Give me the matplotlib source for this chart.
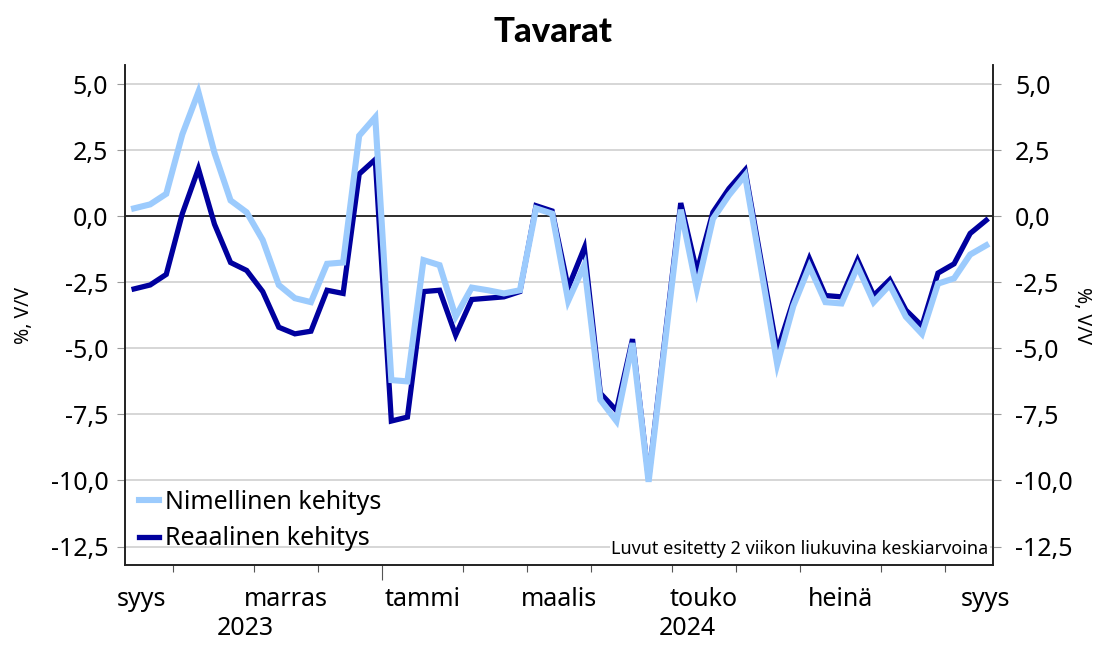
import numpy as np
import matplotlib.pyplot as plt
from matplotlib.transforms import blended_transform_factory

# weekly values, % y/y (2-week moving average)
nimellinen = [0.3, 0.45, 0.85, 3.1, 4.7, 2.4, 0.6, 0.15, -0.9, -2.6,
              -3.1, -3.25, -1.8, -1.75, 3.05, 3.75, -6.2, -6.25, -1.66, -1.85,
              -3.8, -2.7, -2.8, -2.92, -2.8, 0.3, 0.1, -3.2, -1.85, -6.95,
              -7.75, -4.8, -10.05, -4.9, 0.25, -2.75, -0.1, 0.8, 1.55, -2.0,
              -5.6, -3.4, -1.9, -3.25, -3.3, -1.9, -3.25, -2.6, -3.8, -4.45,
              -2.55, -2.35, -1.45, -1.1]
reaalinen = [-2.75, -2.6, -2.2, 0.1, 1.8, -0.3, -1.75, -2.05, -2.85, -4.2,
             -4.45, -4.35, -2.8, -2.92, 1.6, 2.15, -7.75, -7.6, -2.85, -2.8,
             -4.5, -3.15, -3.1, -3.05, -2.85, 0.4, 0.2, -2.7, -1.2, -6.7,
             -7.35, -4.65, -9.95, -4.7, 0.5, -2.1, 0.15, 1.05, 1.75, -1.7,
             -5.1, -3.2, -1.6, -3.0, -3.05, -1.65, -3.0, -2.4, -3.55, -4.15,
             -2.15, -1.8, -0.65, -0.15]

month_names = ["syys", "loka", "marras", "joulu", "tammi", "helmi", "maalis",
               "huhti", "touko", "kesä", "heinä", "elo", "syys"]
month_weeks = [4, 5, 4, 4, 5, 4, 4, 5, 4, 4, 5, 4, 5]
first_month_start = -1.57   # start of Sep 2023 in week units
year_labels = ["2023", "2024"]
yticks = [5.0, 2.5, 0.0, -2.5, -5.0, -7.5, -10.0, -12.5]

light = "#9ccbfd"
dark = "#00009e"

plt.rcParams['font.family'] = ['Noto Sans', 'DejaVu Sans']

fig = plt.figure(figsize=(11.07, 6.45), dpi=100)
ax = fig.add_axes([0.113, 0.124, 0.784, 0.775])
ax2 = ax.twinx()

weeks = np.arange(len(nimellinen))
l2, = ax.plot(weeks, reaalinen, color=dark, lw=3.8, solid_joinstyle="miter", zorder=3)
l1, = ax.plot(weeks, nimellinen, color=light, lw=4.4, solid_joinstyle="miter", zorder=4)

ax.set_xlim(-0.56, 53.42)
for a in (ax, ax2):
    a.set_ylim(-13.2, 5.72)
    a.set_yticks(yticks)
    a.set_yticklabels([f"{v:.1f}".replace(".", ",") for v in yticks])
    a.spines["top"].set_visible(False)
    for s in ("left", "right", "bottom"):
        a.spines[s].set_color("#222222")
        a.spines[s].set_linewidth(1.2)

ax.grid(axis="y", color="#cccccc", lw=1.1, zorder=0)
ax.axhline(0, color="black", lw=1.1, zorder=2)

ax.tick_params(axis="y", labelsize=18, length=6, color="#999999", pad=6)
ax2.tick_params(axis="y", labelsize=18, length=6, color="#999999", pad=10)
ax.set_ylabel("%, V/V", fontsize=14, labelpad=12)
ax2.set_ylabel("%, V/V", fontsize=14, rotation=270, labelpad=14)

# month boundaries as ticks, labels in the middle of every other month
bounds = first_month_start + np.concatenate([[0], np.cumsum(month_weeks)])
ax.set_xticks(bounds[1:-1])
ax.set_xticklabels([])
ax.tick_params(axis="x", which="major", length=5, color="#555555")
jan_idx = month_names.index("tammi") - 1
ax.xaxis.get_major_ticks()[jan_idx].tick1line.set_markersize(11)

mids = (bounds[:-1] + bounds[1:]) / 2
ax.set_xticks(mids[::2], minor=True)
ax.set_xticklabels(month_names[::2], minor=True, fontsize=18)
ax.tick_params(axis="x", which="minor", length=0, pad=16)

trans = blended_transform_factory(ax.transData, ax.transAxes)
jan = bounds[4]
ax.text((bounds[0] + jan) / 2, -0.127, year_labels[0], transform=trans,
        ha="center", va="center", fontsize=18)
ax.text((jan + ax.get_xlim()[1]) / 2, -0.127, year_labels[1], transform=trans,
        ha="center", va="center", fontsize=18)

ax.legend([l1, l2], ["Nimellinen kehitys", "Reaalinen kehitys"], loc="lower left",
          frameon=False, fontsize=18, handlelength=0.8, handletextpad=0.25,
          labelspacing=0.45, borderaxespad=0.35, borderpad=0.2)

ax.text(0.995, 0.032, "Luvut esitetty 2 viikon liukuvina keskiarvoina",
        transform=ax.transAxes, ha="right", va="center", fontsize=13,
        bbox=dict(facecolor="white", edgecolor="none", pad=1), zorder=5)

fig.suptitle("Tavarat", fontsize=25, fontweight="black", y=0.975,
             family=["Lato", "Open Sans", "DejaVu Sans"])

fig.savefig("out.png", dpi=100)
